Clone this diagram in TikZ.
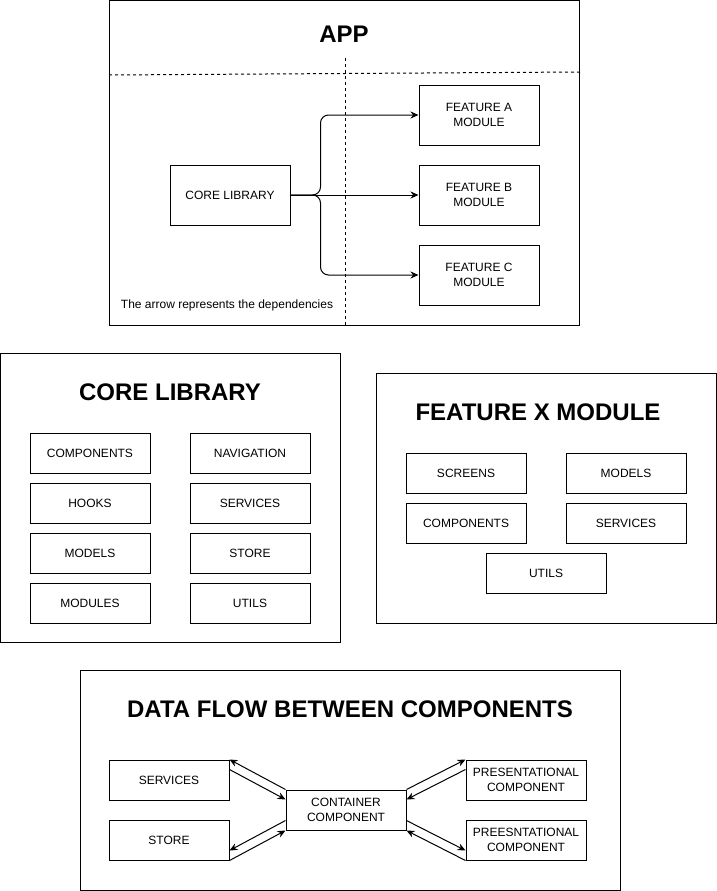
\documentclass[tikz,border=0pt]{standalone}
\usepackage{fontspec}
\setmainfont{Liberation Sans}
\usetikzlibrary{arrows.meta}

\tikzset{
	box/.style={draw, line width=1pt, minimum width=120pt, minimum height=40pt,
	            inner sep=0pt, align=center, font=\fontsize{12}{15}\selectfont},
	bigbox/.style={box, minimum height=60pt},
	panel/.style={draw, line width=1pt},
	heading/.style={font=\fontsize{24}{28}\selectfont\bfseries},
	arr/.style={line width=1pt, -{Stealth[length=8pt, width=7pt]}},
	sep/.style={line width=1pt, dash pattern=on 3pt off 3pt},
}

\begin{document}
\begin{tikzpicture}[x=1pt, y=-1pt]
	\useasboundingbox (0,0) rectangle (717,891);
	\fill[white] (0,0) rectangle (717,891);
	
	% App
	\draw [panel] (109.5,0.5) rectangle (579,325);
	\node (app title) at (344,34) [heading] {APP};
	\draw [sep] (109,75) -- (581,72);
	\draw [sep] (345,58) -- (345,325);
	
	\node (core) at (230,195) [bigbox] {CORE LIBRARY};
	\foreach \f/\y in {A/115,B/195,C/275}{
		\node (feature \f) at (479,\y)
		      [bigbox]
		      {FEATURE \f\\MODULE};
	}
	\node (app note) at (227,305) [font=\fontsize{12}{14}\selectfont]
	      {The arrow represents the dependencies};
	
	% Dependencies
	\foreach \f in {A,C}{
		\draw [arr, rounded corners=8pt]
		      (core.east)
		   -- ++(30,0)
		   |- (feature \f.west)
		    ;
	}
	\draw [arr] (core) -- (feature B);
	
	% Core library
	\draw [panel] (0.5,353) rectangle (340,642);
	\node (core title) at (170,392) [heading] {CORE LIBRARY};
	\foreach \lbl [count=\i] in {COMPONENTS,HOOKS,MODELS,MODULES}{
		\node (core left \i) at (90,403+50*\i) [box] {\lbl};
	}
	\foreach \lbl [count=\i] in {NAVIGATION,SERVICES,STORE,UTILS}{
		\node (core right \i) at (250,403+50*\i) [box] {\lbl};
	}
	
	% Feature module
	\draw [panel] (376,373) rectangle (716,623);
	\node (feature title) at (538,412) [heading] {FEATURE X MODULE};
	\node (screens)    at (466,473) [box] {SCREENS};
	\node (models)     at (626,473) [box] {MODELS};
	\node (components) at (466,523) [box] {COMPONENTS};
	\node (services)   at (626,523) [box] {SERVICES};
	\node (utils)      at (546,573) [box] {UTILS};
	
	% Data flow
	\draw [panel] (80,670) rectangle (620,890.5);
	\node (flow title) at (350,709) [heading] {DATA FLOW BETWEEN COMPONENTS};
	\node (flow services) at (169,780) [box] {SERVICES};
	\node (flow store)    at (169,840) [box] {STORE};
	\node (container)     at (346,810) [box] {CONTAINER\\COMPONENT};
	\node (pres top)      at (526,780) [box] {PRESENTATIONAL\\COMPONENT};
	\node (pres bottom)   at (526,840) [box] {PREESNTATIONAL\\COMPONENT};
	
	% Wires between components
	\draw [arr] (container.north west) -- (flow services.north east);
	\draw [arr] ([yshift=-10pt] flow services.north east)
	         -- ([yshift=-10pt] container.north west);
	\draw [arr] ([yshift=10pt] container.south west)
	         -- ([yshift=10pt] flow store.south east);
	\draw [arr] (flow store.south east) -- (container.south west);
	\draw [arr] (container.north east) -- (pres top.north west);
	\draw [arr] ([yshift=-10pt] pres top.north west)
	         -- ([yshift=-10pt] container.north east);
	\draw [arr] ([yshift=10pt] container.south east)
	         -- ([yshift=10pt] pres bottom.south west);
	\draw [arr] (pres bottom.south west) -- (container.south east);
\end{tikzpicture}
\end{document}
